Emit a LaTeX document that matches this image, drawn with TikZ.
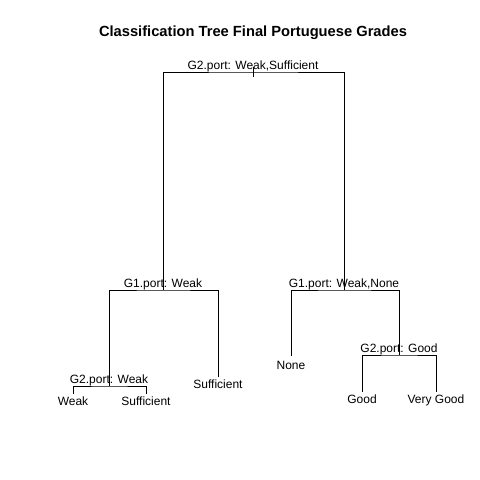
\documentclass[tikz,border=0pt]{standalone}
\usepackage{fontspec}
\setmainfont{Liberation Sans}
\usetikzlibrary{calc}

\tikzset{
  split/.style={anchor=base,inner sep=0pt,yshift=2.5pt,font=\fontsize{12}{14}\selectfont},
  leaf/.style={anchor=base,inner sep=0pt,yshift=-11.5pt,font=\fontsize{12}{14}\selectfont},
  edge/.style={line width=0.9pt}
}

\begin{document}
\begin{tikzpicture}[x=1pt,y=-1pt]
\useasboundingbox (0,0) rectangle (480,480);
\fill[white] (0,0) rectangle (480,480);
\node[anchor=base,inner sep=0pt,font=\fontsize{14.7}{16}\selectfont\bfseries] (title) at (253,36.7) {Classification Tree Final Portuguese Grades};
% split points
\coordinate (root) at (253,72); \coordinate (n1) at (163,290); \coordinate (n2) at (344,290);
\coordinate (n3) at (109,386); \coordinate (n4) at (399,355);
% leaves
\coordinate (weak) at (73,394); \coordinate (suff) at (146,394); \coordinate (suff2) at (218,377);
\coordinate (none) at (291,356); \coordinate (good) at (362,392); \coordinate (vgood) at (436,392);
\draw[edge] (n1) |- (root) -| (n2);
\draw[edge] ($(root)+(0,-5)$) -- ($(root)+(0,5)$);
\draw[edge] (n3) |- (n1) -| (suff2);
\draw[edge] (weak) |- (n3) -| (suff);
\draw[edge] (none) |- (n2) -| (n4);
\draw[edge] (good) |- (n4) -| (vgood);
\node[split] (l0) at (root) {G2.port: Weak,Sufficient};
\node[split] (l1) at (n1) {G1.port: Weak};
\node[split] (l2) at (n2) {G1.port: Weak,None};
\node[split] (l3) at (n3) {G2.port: Weak};
\node[split] (l4) at (n4) {G2.port: Good};
\node[leaf] (t1) at (weak) {Weak};
\node[leaf] (t2) at (suff) {Sufficient};
\node[leaf] (t3) at (suff2) {Sufficient};
\node[leaf,yshift=-2pt] (t4) at (none) {None};
\node[leaf] (t5) at (good) {Good};
\node[leaf] (t6) at (vgood) {Very Good};
\end{tikzpicture}
\end{document}
